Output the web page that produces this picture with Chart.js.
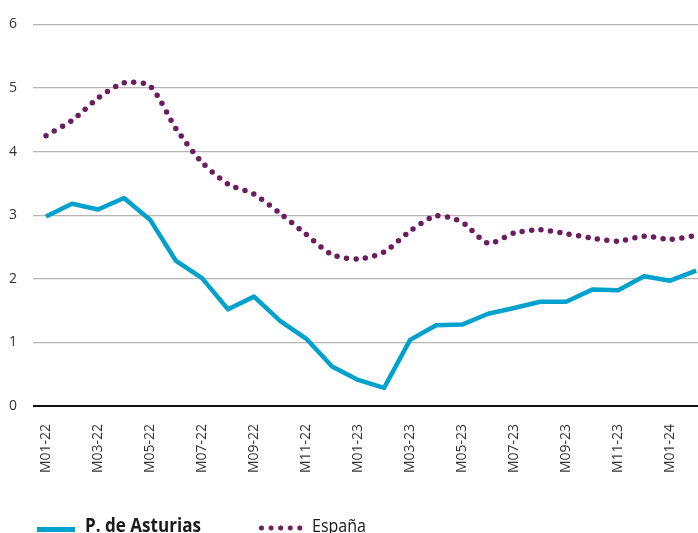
<!DOCTYPE html>
<html>
<head>
<meta charset="utf-8">
<script src="https://cdn.jsdelivr.net/npm/chart.js@4"></script>
<style>
  html, body { margin:0; padding:0; background:#fff; overflow:hidden; width:698px; height:533px; }
  #wrap { position:absolute; left:0; top:0; width:731px; height:490px; }
  #legend { position:absolute; left:0; top:0; width:698px; height:533px; pointer-events:none; }
  .sw1 { position:absolute; left:37px; top:527px; width:38px; height:5px; background:#00A2CD; }
  .sw2 { position:absolute; left:259px; top:525px; width:46px; height:6px;
         background: radial-gradient(circle at 2.5px 3px, #6B1D5F 2.3px, transparent 2.8px) 0 0 / 9.6px 6px repeat-x; }
  .t1 { position:absolute; left:85px; top:511px; font-family:'Open Sans','Noto Sans',sans-serif; font-weight:bold; font-size:19px; color:#1a1a1a; white-space:nowrap; transform-origin:0 0; line-height:28px; }
  .t2 { position:absolute; left:312px; top:511px; font-family:'Open Sans','Noto Sans',sans-serif; font-size:19px; color:#1a1a1a; white-space:nowrap; transform-origin:0 0; line-height:28px; }
</style>
</head>
<body>
<div id="wrap"><canvas id="c"></canvas></div>
<div id="legend">
  <div class="sw1"></div><span class="t1" id="t1">P. de Asturias</span>
  <div class="sw2"></div><span class="t2" id="t2">España</span>
</div>
<script>
const categories = ['M01-22','M02-22','M03-22','M04-22','M05-22','M06-22','M07-22','M08-22','M09-22','M10-22','M11-22','M12-22',
  'M01-23','M02-23','M03-23','M04-23','M05-23','M06-23','M07-23','M08-23','M09-23','M10-23','M11-23','M12-23',
  'M01-24','M02-24'];
const asturias = [2.98,3.18,3.09,3.27,2.93,2.28,2.01,1.52,1.72,1.34,1.06,0.62,
  0.41,0.285,1.04,1.27,1.28,1.45,1.54,1.64,1.64,1.83,1.82,2.04,1.97,2.13];
const espana = [4.25,4.49,4.84,5.08,5.03,4.36,3.83,3.49,3.33,3.03,2.70,2.38,
  2.31,2.42,2.75,2.99,2.89,2.56,2.72,2.77,2.71,2.64,2.59,2.67,2.62,2.68];
const yTicks = [0,1,2,3,4,5,6];
const seriesNames = ['P. de Asturias','España'];

// fit legend text widths
function fit(id, w){ const el=document.getElementById(id); const r=el.getBoundingClientRect().width; el.style.transform='scaleX('+(w/r)+')'; }
fit('t1',116); fit('t2',54);

new Chart(document.getElementById('c'), {
  type:'line',
  data:{
    labels:categories,
    datasets:[
      { label:seriesNames[0], data:asturias, borderColor:'#00A2CD', backgroundColor:'#00A2CD', borderWidth:4.5,
        pointRadius:0, tension:0, borderJoinStyle:'round', borderCapStyle:'butt' },
      { label:seriesNames[1], data:espana, borderColor:'#6B1D5F', backgroundColor:'#6B1D5F', borderWidth:5.5,
        borderDash:[0,9.5], borderCapStyle:'round', pointRadius:0, tension:0.25 }
    ]
  },
  options:{
    responsive:true, maintainAspectRatio:false, animation:false,
    layout:{ padding:{ top:12, right:2, left:0, bottom:0 } },
    plugins:{ legend:{ display:false }, tooltip:{ enabled:false } },
    scales:{
      x:{
        offset:true,
        grid:{ display:false, drawTicks:false },
        border:{ display:false },
        ticks:{ autoSkip:false, maxRotation:90, minRotation:90, padding:18, color:'#333',
          font:{ family:"'Open Sans','Noto Sans',sans-serif", size:14 },
          callback:(v,i)=> i%2===0 ? categories[i] : '' },
        afterFit:(s)=>{ s.height = 84; }
      },
      y:{
        min:0, max:6,
        afterBuildTicks:(s)=>{ s.ticks = yTicks.map(v=>({value:v})); },
        grid:{ drawTicks:false, color:(c)=> c.tick && c.tick.value===0 ? '#111' : '#B5B5B5',
               lineWidth:(c)=> c.tick && c.tick.value===0 ? 2 : 1.2 },
        border:{ display:false },
        ticks:{ padding:16, color:'#333', font:{ family:"'Open Sans','Noto Sans',sans-serif", size:14 } },
        afterFit:(s)=>{ s.width = 33; }
      }
    }
  }
});
</script>
</body>
</html>
